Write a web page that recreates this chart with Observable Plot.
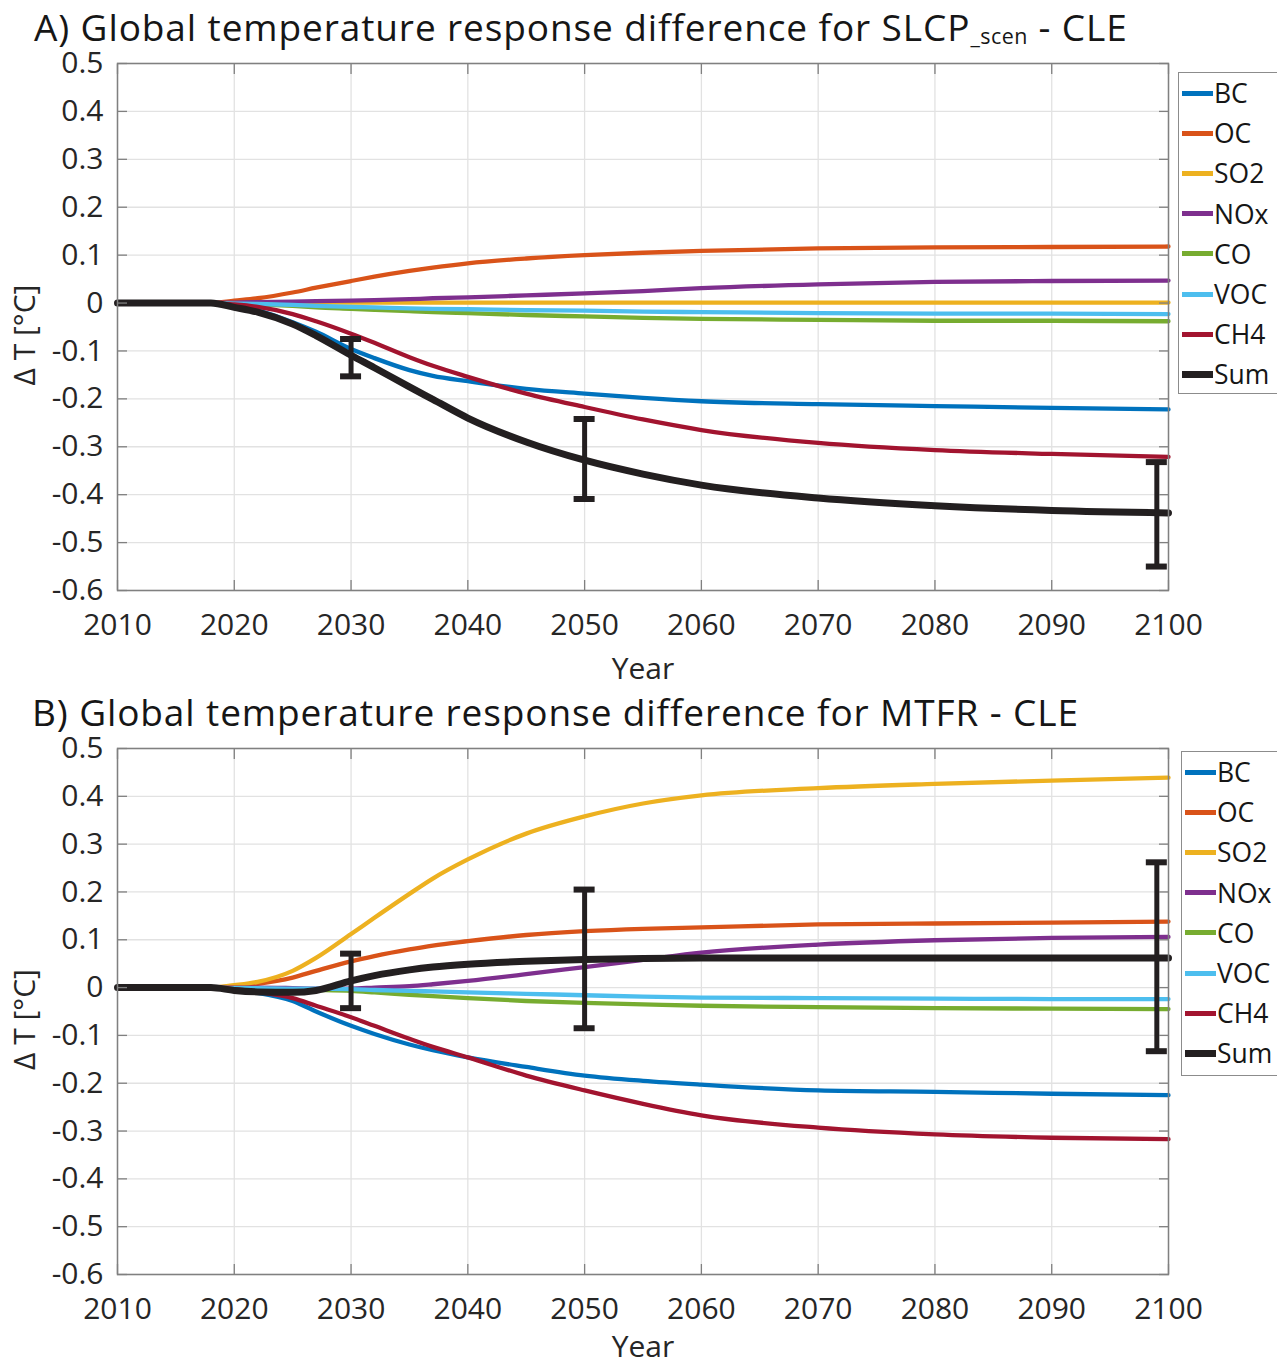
<!DOCTYPE html>
<html><head><meta charset="utf-8">
<script src="https://cdn.jsdelivr.net/npm/d3@7"></script>
<script src="https://cdn.jsdelivr.net/npm/@observablehq/plot@0.6"></script>
<style>
body{margin:0;background:#fff;font-family:"Open Sans",sans-serif;}
#page{position:relative;width:1277px;height:1366px;overflow:hidden;background:#fff;}
.title{position:absolute;font-size:37px;letter-spacing:0.9px;color:#161616;white-space:nowrap;z-index:3;line-height:0.8;}
.chart{position:absolute;left:0;}
.legend{position:absolute;border:1px solid #8c8c8c;background:#fff;z-index:2;}
.item{position:absolute;left:3px;height:40px;display:flex;align-items:center;font-size:26.5px;color:#161616;}
.swatch{width:31px;height:5px;margin-right:1px;}
</style></head>
<body><div id="page"></div>
<script>
// ---- data ----
const years = [2010,2015,2018,2020,2022,2025,2027,2030,2032,2035,2037,2040,2045,2050,2055,2060,2070,2080,2090,2100];
const keys = ["BC","OC","SO2","NOx","CO","VOC","CH4","Sum"];
const colors = ["#0072BD","#D95319","#EDB120","#7E2F8E","#77AC30","#4DBEEE","#A2142F","#231F20"];
const xTicks = [2010,2020,2030,2040,2050,2060,2070,2080,2090,2100];
const yTicks = [-0.6,-0.5,-0.4,-0.3,-0.2,-0.1,0,0.1,0.2,0.3,0.4,0.5];

// Panel A: SLCP_scen - CLE
const aBC  = [0,0,0,-0.005,-0.015,-0.040,-0.060,-0.096,-0.115,-0.140,-0.152,-0.163,-0.179,-0.189,-0.198,-0.205,-0.211,-0.215,-0.219,-0.222];
const aOC  = [0,0,0,0.005,0.010,0.022,0.032,0.046,0.055,0.067,0.074,0.083,0.093,0.100,0.105,0.109,0.114,0.116,0.117,0.118];
const aSO2 = [0,0,0,0,0,0.001,0.001,0.001,0.001,0.001,0.001,0.001,0.001,0.001,0.001,0.001,0.001,0.001,0.001,0.001];
const aNOx = [0,0,0,0.001,0.002,0.003,0.004,0.005,0.006,0.008,0.010,0.012,0.016,0.020,0.025,0.031,0.039,0.044,0.046,0.047];
const aCO  = [0,0,0,-0.002,-0.003,-0.006,-0.009,-0.012,-0.014,-0.017,-0.019,-0.021,-0.025,-0.028,-0.031,-0.033,-0.035,-0.037,-0.037,-0.038];
const aVOC = [0,0,0,-0.001,-0.002,-0.004,-0.006,-0.008,-0.009,-0.011,-0.012,-0.013,-0.015,-0.016,-0.018,-0.019,-0.021,-0.022,-0.022,-0.023];
const aCH4 = [0,0,0,-0.003,-0.008,-0.023,-0.038,-0.064,-0.083,-0.113,-0.131,-0.154,-0.189,-0.217,-0.243,-0.265,-0.292,-0.307,-0.315,-0.321];
const aSum = [0,0,0,-0.009,-0.019,-0.044,-0.068,-0.109,-0.135,-0.175,-0.201,-0.240,-0.290,-0.328,-0.357,-0.380,-0.407,-0.423,-0.433,-0.438];
const aErrYears = [2030,2050,2099];
const aErrLo = [-0.153,-0.409,-0.550];
const aErrHi = [-0.075,-0.242,-0.332];

// Panel B: MTFR - CLE
const bBC  = [0,0,0,-0.005,-0.011,-0.028,-0.050,-0.080,-0.097,-0.119,-0.131,-0.146,-0.166,-0.184,-0.195,-0.203,-0.215,-0.218,-0.222,-0.225];
const bOC  = [0,0,0,0.003,0.008,0.021,0.035,0.055,0.066,0.080,0.088,0.097,0.110,0.118,0.123,0.126,0.132,0.134,0.136,0.138];
const bSO2 = [0,0,0,0.005,0.012,0.035,0.062,0.112,0.146,0.196,0.228,0.268,0.322,0.358,0.385,0.402,0.417,0.426,0.433,0.439];
const bNOx = [0,0,0,0,0,-0.001,-0.002,-0.002,0,0.003,0.007,0.014,0.028,0.043,0.058,0.073,0.090,0.099,0.104,0.106];
const bCO  = [0,0,0,-0.002,-0.003,-0.004,-0.005,-0.007,-0.010,-0.015,-0.018,-0.022,-0.028,-0.032,-0.035,-0.038,-0.041,-0.043,-0.044,-0.045];
const bVOC = [0,0,0,-0.001,-0.001,-0.002,-0.002,-0.003,-0.005,-0.007,-0.008,-0.010,-0.013,-0.016,-0.019,-0.021,-0.022,-0.023,-0.024,-0.024];
const bCH4 = [0,0,0,-0.003,-0.009,-0.022,-0.038,-0.062,-0.080,-0.107,-0.124,-0.146,-0.184,-0.215,-0.243,-0.267,-0.293,-0.307,-0.314,-0.317];
const bSum = [0,0,0,-0.006,-0.009,-0.010,-0.006,0.014,0.025,0.037,0.043,0.049,0.055,0.059,0.061,0.062,0.062,0.062,0.062,0.062];
const bErrYears = [2030,2050,2099];
const bErrLo = [-0.043,-0.085,-0.133];
const bErrHi = [0.071,0.205,0.262];

// ---- build ----
const fmt = d => Math.abs(d) < 1e-9 ? "0" : String(+d.toFixed(1));
const page = document.getElementById("page");

function tidy(arrs){
  const out = [];
  keys.forEach((k,j) => arrs[j].forEach((v,i) => out.push({year: years[i], value: v, key: k})));
  return out;
}
function errs(ys, lo, hi){ return ys.map((y,i) => ({year: y, lo: lo[i], hi: hi[i]})); }

function chart(data, err, height, mb, yearDy){
  const axisStroke = "#808080", txt = "#262626";
  return Plot.plot({
    width: 1277, height,
    marginLeft: 117, marginRight: 109, marginTop: 13, marginBottom: mb,
    style: {background: "transparent", overflow: "visible", fontFamily: "Open Sans"},
    x: {domain: [2010, 2100], label: null},
    y: {domain: [-0.6, 0.5], label: null},
    color: {domain: keys, range: colors},
    marks: [
      Plot.gridX(xTicks, {stroke: "#e2e2e2", strokeOpacity: 1, strokeWidth: 1.3}),
      Plot.gridY(yTicks, {stroke: "#e2e2e2", strokeOpacity: 1, strokeWidth: 1.3}),
      Plot.line(data.filter(d => d.key !== "Sum"), {x: "year", y: "value", z: "key", stroke: "key", strokeWidth: 4.3, curve: "monotone-x"}),
      Plot.line(data.filter(d => d.key === "Sum"), {x: "year", y: "value", stroke: colors[7], strokeWidth: 7, curve: "monotone-x"}),
      Plot.ruleX(err, {x: "year", y1: "lo", y2: "hi", stroke: colors[7], strokeWidth: 5, clip: true}),
      Plot.ruleY(err, {y: "lo", x1: d => d.year - 0.9, x2: d => d.year + 0.9, stroke: colors[7], strokeWidth: 6, clip: true}),
      Plot.ruleY(err, {y: "hi", x1: d => d.year - 0.9, x2: d => d.year + 0.9, stroke: colors[7], strokeWidth: 6, clip: true}),
      Plot.frame({stroke: axisStroke, strokeWidth: 1.5}),
      Plot.axisY(yTicks, {anchor: "left", tickSize: -10, tickPadding: 24, tickFormat: fmt, fontSize: 30, stroke: axisStroke, fill: txt, label: null, strokeWidth: 1.3}),
      Plot.axisY(yTicks, {anchor: "right", tickSize: -10, tickFormat: () => "", stroke: axisStroke, label: null, strokeWidth: 1.3}),
      Plot.axisX(xTicks, {anchor: "bottom", tickSize: -10, tickPadding: 33, tickFormat: d => String(d), fontSize: 30, stroke: axisStroke, fill: txt, label: null, strokeWidth: 1.3}),
      Plot.axisX(xTicks, {anchor: "top", tickSize: -10, tickFormat: () => "", stroke: axisStroke, label: null, strokeWidth: 1.3}),
      Plot.text(["Δ T [°C]"], {frameAnchor: "left", textAnchor: "middle", dx: -92, dy: 8, rotate: -90, fontSize: 30, fill: txt}),
      Plot.text(["Year"], {frameAnchor: "bottom", dy: yearDy, fontSize: 30, fill: txt})
    ]
  });
}

function place(el, top){ el.classList.add("chart"); el.style.top = top + "px"; page.appendChild(el); }

place(chart(tidy([aBC,aOC,aSO2,aNOx,aCO,aVOC,aCH4,aSum]), errs(aErrYears,aErrLo,aErrHi), 640, 100, 88), 50);
place(chart(tidy([bBC,bOC,bSO2,bNOx,bCO,bVOC,bCH4,bSum]), errs(bErrYears,bErrLo,bErrHi), 631, 92, 82), 735);

function title(html, left, top){
  const t = document.createElement("div"); t.className = "title"; t.innerHTML = html;
  t.style.left = left + "px"; t.style.top = top + "px"; page.appendChild(t);
}
title('A) Global temperature response difference for SLCP<span style="font-size:58%;vertical-align:-3px;letter-spacing:0.5px">_scen</span> - CLE', 34, 12);
title('B) Global temperature response difference for MTFR - CLE', 32, 697);

function legend(left, top, height){
  const L = document.createElement("div"); L.className = "legend";
  L.style.left = left + "px"; L.style.top = top + "px"; L.style.width = "120px"; L.style.height = height + "px";
  keys.forEach((k,i) => {
    const it = document.createElement("div"); it.className = "item"; it.style.top = (i*40.2) + "px";
    const sw = document.createElement("div"); sw.className = "swatch"; sw.style.background = colors[i];
    if (k === "Sum") sw.style.height = "7px";
    const tx = document.createElement("span"); tx.textContent = k;
    it.appendChild(sw); it.appendChild(tx); L.appendChild(it);
  });
  page.appendChild(L);
}
legend(1178, 72, 320);
legend(1181, 751, 323);
</script>
</body></html>
